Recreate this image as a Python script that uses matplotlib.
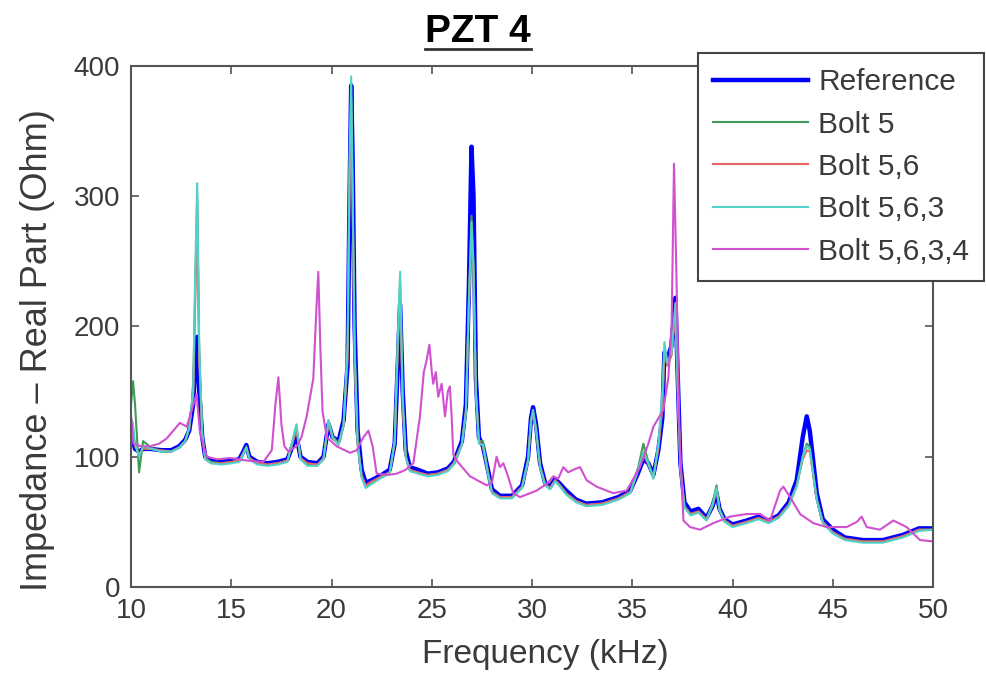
import matplotlib
matplotlib.use('Agg')
import matplotlib.pyplot as plt
from matplotlib.lines import Line2D

plt.rcParams['font.family'] = ['Liberation Sans', 'DejaVu Sans']

# 共用頻率 (kHz) - Reference / Bolt 5 / Bolt 5,6 / Bolt 5,6,3
freq_a = [10.0, 10.1, 10.2, 10.4, 10.6, 11.0, 11.5, 12.0, 12.4, 12.7,
          12.9, 13.1, 13.2, 13.3, 13.4, 13.55, 13.7, 14.0, 14.5, 15.0,
          15.4, 15.6, 15.75, 15.9, 16.3, 16.8, 17.3, 17.8, 18.05, 18.25,
          18.45, 18.8, 19.3, 19.6, 19.85, 20.05, 20.35, 20.6, 20.8, 20.9,
          20.98, 21.05, 21.15, 21.3, 21.5, 21.7, 22.0, 22.5, 22.9, 23.15,
          23.3, 23.42, 23.55, 23.7, 23.9, 24.3, 24.8, 25.3, 25.8, 26.1,
          26.5, 26.7, 26.85, 26.98, 27.08, 27.2, 27.35, 27.55, 27.8, 28.0,
          28.4, 29.0, 29.5, 29.8, 29.95, 30.05, 30.2, 30.4, 30.65, 30.9,
          31.15, 31.4, 31.7, 32.2, 32.7, 33.5, 34.3, 34.9, 35.3, 35.55,
          35.8, 36.05, 36.3, 36.5, 36.6, 36.75, 36.95, 37.15, 37.25, 37.4,
          37.6, 37.9, 38.3, 38.7, 39.0, 39.2, 39.35, 39.6, 40.0, 40.7,
          41.3, 41.8, 42.3, 42.8, 43.2, 43.5, 43.7, 43.85, 44.0, 44.2,
          44.5, 45.0, 45.6, 46.5, 47.5, 48.5, 49.3, 50.0]

z_ref = [120, 112, 106, 104, 106, 106, 105, 105, 108, 113,
         120, 140, 170, 192, 150, 115, 100, 97, 96, 97,
         98, 104, 109, 100, 96, 95, 96, 98, 108, 116,
         100, 96, 95, 100, 125, 115, 112, 128, 170, 300,
         385, 330, 200, 120, 90, 80, 82, 86, 90, 110,
         170, 217, 150, 105, 92, 90, 87, 88, 91, 96,
         112, 140, 230, 338, 300, 160, 115, 108, 90, 75,
         70, 70, 78, 100, 130, 138, 125, 95, 80, 77,
         83, 79, 74, 67, 64, 65, 69, 74, 88, 98,
         95, 86, 105, 130, 180, 175, 185, 222, 170, 95,
         65, 58, 60, 53, 62, 72, 60, 52, 48, 51,
         54, 51, 55, 65, 82, 115, 131, 120, 100, 72,
         52, 44, 38, 36, 36, 40, 45, 45]

z_b5 = [140, 158, 140, 88, 112, 107, 104, 104, 107, 112,
        122, 150, 230, 300, 180, 118, 99, 96, 95, 96,
        97, 103, 108, 99, 95, 94, 95, 97, 112, 124,
        99, 94, 94, 98, 128, 116, 110, 125, 180, 320,
        375, 300, 180, 112, 85, 77, 80, 85, 88, 112,
        185, 235, 140, 100, 90, 88, 86, 87, 90, 95,
        110, 135, 220, 285, 250, 150, 112, 112, 88, 73,
        69, 69, 77, 98, 128, 135, 122, 93, 79, 76,
        82, 78, 72, 66, 63, 64, 68, 73, 92, 110,
        96, 84, 108, 140, 182, 170, 178, 215, 160, 92,
        62, 56, 58, 52, 64, 78, 60, 51, 47, 50,
        53, 50, 54, 63, 78, 100, 110, 108, 90, 68,
        50, 42, 37, 35, 35, 39, 44, 44]

z_b56 = [125, 118, 108, 102, 106, 106, 105, 104, 107, 112,
         121, 148, 220, 290, 175, 116, 98, 95, 95, 96,
         97, 103, 107, 99, 95, 94, 95, 97, 110, 121,
         99, 95, 94, 99, 126, 114, 110, 124, 175, 310,
         365, 295, 175, 110, 86, 78, 81, 85, 88, 110,
         180, 225, 138, 100, 90, 88, 86, 87, 90, 95,
         110, 135, 215, 275, 240, 148, 112, 108, 88, 73,
         69, 69, 77, 97, 127, 132, 120, 93, 79, 76,
         82, 78, 72, 66, 63, 64, 68, 73, 90, 102,
         94, 84, 106, 138, 180, 170, 178, 210, 158, 92,
         62, 56, 58, 52, 62, 74, 59, 51, 47, 50,
         53, 50, 54, 63, 78, 98, 105, 104, 88, 67,
         50, 42, 37, 35, 35, 39, 44, 44]

z_b563 = [130, 125, 110, 100, 108, 106, 104, 104, 107, 112,
          122, 152, 240, 310, 185, 118, 98, 95, 94, 95,
          96, 102, 107, 98, 94, 93, 94, 96, 112, 125,
          98, 93, 93, 98, 128, 115, 109, 124, 185, 330,
          392, 310, 185, 110, 84, 76, 79, 84, 87, 112,
          188, 242, 145, 100, 89, 87, 85, 86, 89, 94,
          109, 134, 218, 280, 245, 150, 110, 109, 87, 72,
          68, 68, 76, 97, 128, 136, 121, 92, 78, 75,
          81, 77, 71, 65, 62, 63, 67, 72, 90, 104,
          95, 83, 110, 150, 188, 172, 180, 218, 162, 90,
          61, 55, 57, 51, 63, 76, 59, 50, 46, 49,
          52, 49, 53, 62, 77, 100, 108, 106, 89, 67,
          49, 41, 36, 34, 34, 38, 43, 44]

# Bolt 5,6,3,4 自己的頻率點
freq_m = [10.0, 10.12, 10.5, 10.95, 11.4, 11.78, 12.11, 12.44, 12.78, 13.03,
          13.27, 13.44, 13.77, 14.3, 14.94, 15.8, 16.6, 17.02, 17.2, 17.35,
          17.5, 17.65, 17.85, 18.26, 18.5, 18.76, 19.09, 19.25, 19.34, 19.45,
          19.55, 19.76, 20.26, 20.92, 21.26, 21.59, 21.84, 22.05, 22.25, 22.8,
          23.25, 23.7, 24.08, 24.41, 24.6, 24.74, 24.88, 25.0, 25.07, 25.2,
          25.32, 25.49, 25.66, 25.8, 25.9, 25.99, 26.07, 26.24, 26.9, 27.74,
          28.0, 28.23, 28.4, 28.57, 28.8, 29.06, 29.4, 30.23, 30.8, 31.06,
          31.3, 31.56, 31.8, 32.06, 32.39, 32.72, 33.22, 34.05, 34.72, 35.38,
          35.8, 36.05, 36.55, 36.8, 36.96, 37.08, 37.2, 37.35, 37.55, 37.88,
          38.38, 39.04, 39.87, 40.71, 41.37, 41.87, 42.37, 42.53, 42.87, 43.37,
          44.03, 44.7, 45.69, 46.2, 46.44, 46.69, 47.35, 48.02, 48.68, 49.35,
          50.0]

z_b5634 = [131, 110, 108, 108, 110, 114, 120, 126, 123, 136,
           148, 118, 100, 98, 99, 97, 96, 105, 140, 161,
           125, 108, 104, 108, 115, 131, 160, 215, 242, 180,
           135, 115, 108, 103, 105, 115, 120, 108, 87, 86,
           87, 90, 95, 131, 165, 174, 186, 165, 156, 165,
           146, 156, 131, 150, 154, 131, 102, 97, 85, 78,
           80, 100, 92, 95, 85, 72, 69, 74, 80, 85,
           83, 92, 88, 90, 92, 82, 77, 72, 74, 92,
           110, 123, 136, 161, 200, 325, 240, 120, 51, 46,
           44, 49, 54, 56, 56, 51, 74, 77, 69, 56,
           49, 46, 46, 50, 54, 46, 44, 51, 46, 36,
           35]

labels = ['Reference', 'Bolt 5', 'Bolt 5,6', 'Bolt 5,6,3', 'Bolt 5,6,3,4']

fig = plt.figure(figsize=(9.86, 6.75), dpi=100)
ax = fig.add_axes([0.1329, 0.1304, 0.8134, 0.7719])

ax.plot(freq_a, z_ref, color='#0000ff', lw=3.2, label=labels[0])
ax.plot(freq_a, z_b5, color='#3f9a55', lw=1.5, label=labels[1])
ax.plot(freq_a, z_b56, color='#e86464', lw=1.5, label=labels[2])
ax.plot(freq_a, z_b563, color='#50d2c8', lw=1.5, label=labels[3])
ax.plot(freq_m, z_b5634, color='#d050d0', lw=1.5, label=labels[4])

ax.set_xlim(10, 50)
ax.set_ylim(0, 400)
ax.set_xticks(range(10, 51, 5))
ax.set_yticks(range(0, 401, 100))
ax.tick_params(direction='in', length=6, width=1.2, top=True, right=True,
               labelsize=20, labelcolor='#3a3a3a', color='#555555', pad=8)
for s in ax.spines.values():
    s.set_color('#555555')
    s.set_linewidth(1.5)

ax.set_xlabel('Frequency (kHz)', fontsize=24, color='#3a3a3a')
ax.xaxis.set_label_coords(0.516, -0.10)
ax.set_ylabel('Impedance – Real Part (Ohm)', fontsize=26, color='#3a3a3a')
ax.yaxis.set_label_coords(-0.095, 0.455)

leg = ax.legend(loc='upper right', bbox_to_anchor=(0.998, 0.921),
                bbox_transform=fig.transFigure, borderaxespad=0,
                fontsize=21.5, fancybox=False, framealpha=1, edgecolor='#444444',
                labelspacing=0.48, handlelength=3.2, handletextpad=0.33,
                borderpad=0.5)
leg.get_frame().set_linewidth(1.5)
for t in leg.get_texts():
    t.set_color('#3a3a3a')

title = fig.text(478 / 986, 1 - 42 / 675, 'PZT 4', ha='center', va='baseline',
                 fontsize=28, fontweight='bold', color='black')

# 標題底線
fig.canvas.draw()
bb = title.get_window_extent(fig.canvas.get_renderer())
W, H = fig.bbox.width, fig.bbox.height
uy = (bb.y0 + 1) / H
fig.add_artist(Line2D([bb.x0 / W, bb.x1 / W], [uy, uy], transform=fig.transFigure,
                      color='#333333', lw=2))

fig.savefig('out.png', dpi=100)
